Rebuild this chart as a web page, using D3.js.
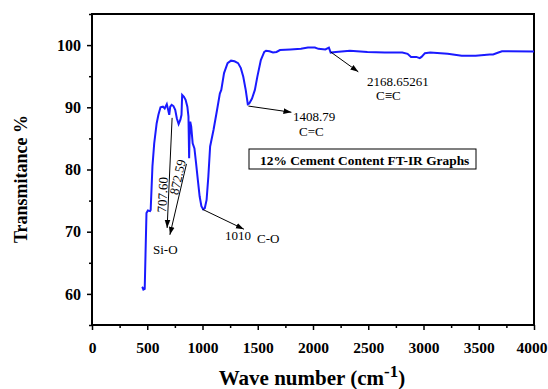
<!DOCTYPE html>
<html><head><meta charset="utf-8">
<script src="https://cdn.jsdelivr.net/npm/d3@7"></script>
<style>body{margin:0;background:#fff}svg{display:block}</style>
</head><body>
<script>
const wavenumber = [452,458,465,477,493,506,525,531,547,563,585,601,620,642,658,677,689,699,708,721,737,753,768,784,800,810,816,832,847,863,873,879,882,889,898,911,927,942,958,974,990,1006,1021,1037,1053,1069,1100,1132,1157,1170,1195,1227,1258,1290,1322,1347,1369,1391,1410,1423,1448,1474,1496,1528,1559,1575,1606,1638,1670,1701,1796,1891,1954,2017,2049,2112,2144,2160,2207,2334,2492,2650,2808,2856,2887,2935,2966,2982,3013,3061,3219,3346,3472,3599,3630,3678,3710,3757,4000];
const transmittance = [61.1,61.0,60.7,60.8,73.0,73.4,73.3,73.5,80.5,84.2,87.4,88.8,90.0,90.1,89.8,90.5,89.6,88.8,90.1,90.4,90.2,89.6,88.2,87.3,88.0,88.8,92.0,91.7,91.2,90.1,88.5,81.8,84.5,87.7,86.9,84.2,83.4,81.0,78.3,75.7,74.1,73.6,73.8,75.1,78.9,83.7,86.4,89.6,92.2,92.8,95.5,97.1,97.5,97.4,97.1,96.3,94.9,92.8,90.5,90.6,91.4,92.8,94.9,97.6,98.9,99.1,99.0,98.8,98.9,99.2,99.3,99.4,99.6,99.6,99.4,99.3,99.6,98.8,98.9,99.1,98.9,98.8,98.8,98.6,98.1,98.1,97.9,98.1,98.7,98.8,98.6,98.3,98.3,98.5,98.5,98.8,99.0,99.0,98.98];
const xTicks = [0,500,1000,1500,2000,2500,3000,3500,4000];
const yTicks = [60,70,80,90,100];
const xMinor = [250,750,1250,1750,2250,2750,3250,3750];
const yMinor = [55,65,75,85,95,105];

const W=548,H=389;
const m={l:92,r:14,t:14,b:64};
const svg=d3.select("body").append("svg").attr("width",W).attr("height",H);
const x=d3.scaleLinear().domain([0,4000]).range([m.l,W-m.r]);
const y=d3.scaleLinear().domain([55,105]).range([H-m.b,m.t]);
const serif="'Liberation Serif','Times New Roman',serif";

// minor ticks
svg.append("g").attr("transform",`translate(0,${H-m.b})`)
  .call(d3.axisBottom(x).tickValues(xMinor).tickSize(3).tickFormat(""))
  .call(g=>g.select(".domain").remove())
  .call(g=>g.selectAll("line").attr("stroke","#000").attr("stroke-width",1.5));
svg.append("g").attr("transform",`translate(${m.l},0)`)
  .call(d3.axisLeft(y).tickValues(yMinor).tickSize(3).tickFormat(""))
  .call(g=>g.select(".domain").remove())
  .call(g=>g.selectAll("line").attr("stroke","#000").attr("stroke-width",1.5));
// major
svg.append("g").attr("transform",`translate(0,${H-m.b})`)
  .call(d3.axisBottom(x).tickValues(xTicks).tickSize(5).tickPadding(12).tickFormat(d3.format("d")))
  .call(g=>g.select(".domain").remove())
  .call(g=>g.selectAll("line").attr("stroke","#000").attr("stroke-width",1.5))
  .call(g=>g.selectAll("text").attr("fill","#000").style("font-family",serif).style("font-weight","bold").style("font-size","15.5px"))
  .call(g=>g.selectAll("text").filter(d=>d===4000).attr("text-anchor","end").attr("dx","13"));
svg.append("g").attr("transform",`translate(${m.l},0)`)
  .call(d3.axisLeft(y).tickValues(yTicks).tickSize(5).tickPadding(6).tickFormat(d3.format("d")))
  .call(g=>g.select(".domain").remove())
  .call(g=>g.selectAll("line").attr("stroke","#000").attr("stroke-width",1.5))
  .call(g=>g.selectAll("text").attr("fill","#000").style("font-family",serif).style("font-weight","bold").style("font-size","16px"));

// frame
svg.append("rect").attr("x",m.l).attr("y",m.t).attr("width",W-m.l-m.r).attr("height",H-m.t-m.b)
  .attr("fill","none").attr("stroke","#000").attr("stroke-width",2);

// curve
const pts=wavenumber.map((w,i)=>[w,transmittance[i]]);
svg.append("path").datum(pts)
  .attr("d",d3.line().x(d=>x(d[0])).y(d=>y(d[1])))
  .attr("fill","none").attr("stroke","#1a1aff").attr("stroke-width",2);

// axis titles
svg.append("text").attr("x",312).attr("y",385).attr("text-anchor","middle")
  .style("font-family",serif).style("font-weight","bold").style("font-size","21px").attr("fill","#000")
  .html('Wave number (cm<tspan dy="-8" font-size="17px">-1</tspan><tspan dy="8">)</tspan>');
svg.append("text").attr("transform","translate(27,179) rotate(-90)").attr("text-anchor","middle")
  .style("font-family",serif).style("font-weight","bold").style("font-size","18px").attr("fill","#000")
  .text("Transmitance %");

// arrows
const defs=svg.append("defs");
defs.append("marker").attr("id","ah").attr("viewBox","0 0 10 10").attr("refX",10).attr("refY",5)
  .attr("markerWidth",8).attr("markerHeight",8).attr("markerUnits","userSpaceOnUse").attr("orient","auto")
  .append("path").attr("d","M0,1.5 L10,5 L0,8.5 Z").attr("fill","#000");
const arrow=(x1,y1,x2,y2)=>svg.append("line").attr("x1",x(x1)).attr("y1",y(y1)).attr("x2",x(x2)).attr("y2",y(y2))
  .attr("stroke","#000").attr("stroke-width",1).attr("marker-end","url(#ah)");
arrow(2160,98.9,2410,95.7);
arrow(1415,90.2,1805,89.2);
arrow(1000,73.6,1375,70.4);
arrow(725,88.3,680,70.6);
arrow(855,80.9,705,69.5);

const label=(t,px,py,opt={})=>{
  const e=svg.append("text").attr("x",px).attr("y",py)
   .style("font-family",serif).style("font-size",(opt.size||13)+"px").attr("fill","#000").text(t);
  if(opt.weight)e.style("font-weight",opt.weight);
  if(opt.anchor)e.attr("text-anchor",opt.anchor);
  if(opt.rot!==undefined)e.attr("transform",`rotate(${opt.rot},${px},${py})`);
  return e;
};
label("2168.65261",367,86);
label("C≡C",376,100);
label("1408.79",293,121);
label("C=C",299,136);
label("1010",225,240);
label("C-O",257,243);
label("Si-O",153,254);
label("707.60",167,195,{anchor:"middle",rot:-87});
label("872.59",182,178,{anchor:"middle",rot:-77});

// box
svg.append("rect").attr("x",249).attr("y",149).attr("width",227).attr("height",20)
  .attr("fill","#fff").attr("stroke","#000").attr("stroke-width",1);
label("12% Cement Content FT-IR Graphs",260,164.5,{size:13.4,weight:"bold"});
</script>
</body></html>
